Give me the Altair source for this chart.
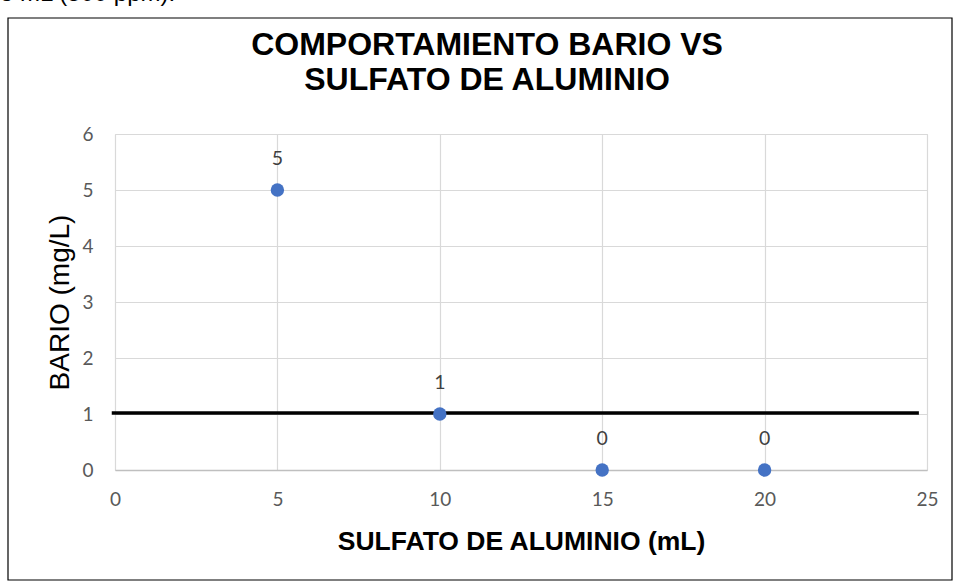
import altair as alt
import pandas as pd

# Jar-test results: aluminium sulfate dose vs residual barium
sulfato_ml = [5, 10, 15, 20]
bario_mg_l = [5, 1, 0, 0]

# Reference limit line (mg/L) and its horizontal extent on the x scale
limite_y = [1.02]
limite_x_ini = [-0.1]
limite_x_fin = [24.75]

x_ticks = [0, 5, 10, 15, 20, 25]
y_ticks = [0, 1, 2, 3, 4, 5, 6]

titulo = ["COMPORTAMIENTO BARIO VS", "SULFATO DE ALUMINIO"]

puntos = pd.DataFrame({"sulfato": sulfato_ml, "bario": bario_mg_l})
limite = pd.DataFrame({"x": limite_x_ini, "x2": limite_x_fin, "y": limite_y})

LABEL_FONT = "Lato"
TITLE_FONT = "Liberation Sans"

x_scale = alt.Scale(domain=[0, 25], nice=False)
y_scale = alt.Scale(domain=[0, 6], nice=False)

x_axis = alt.Axis(
    values=x_ticks,
    format="d",
    title="SULFATO DE ALUMINIO (mL)",
    titleFont=TITLE_FONT,
    titleFontSize=26.5,
    titleFontWeight="bold",
    titleColor="#000000",
    titleY=79,
    titleBaseline="alphabetic",
    labelFont=LABEL_FONT,
    labelFontSize=19,
    labelColor="#595959",
    labelPadding=20,
    labelFlush=False,
    ticks=False,
    domain=True,
    domainColor="#bfbfbf",
    domainWidth=1.5,
    grid=True,
    gridColor="#d9d9d9",
    gridWidth=1.2,
)

y_axis = alt.Axis(
    values=y_ticks,
    format="d",
    title="BARIO (mg/L)",
    titleFont=TITLE_FONT,
    titleFontSize=28,
    titleFontWeight="normal",
    titleColor="#000000",
    titleAngle=270,
    titleX=-47,
    titleY=168,
    titleAlign="center",
    titleBaseline="alphabetic",
    labelFont=LABEL_FONT,
    labelFontSize=19,
    labelColor="#595959",
    labelPadding=22,
    labelFlush=False,
    ticks=False,
    domain=False,
    grid=True,
    gridColor="#d9d9d9",
    gridWidth=1.2,
)

base = alt.Chart(puntos)

puntos_layer = base.mark_circle(size=180, color="#4472C4", opacity=1).encode(
    x=alt.X("sulfato:Q", scale=x_scale, axis=x_axis),
    y=alt.Y("bario:Q", scale=y_scale, axis=y_axis),
)

etiquetas = base.mark_text(
    dy=-31, font=LABEL_FONT, fontSize=19.5, color="#404040", baseline="middle"
).encode(
    x=alt.X("sulfato:Q", scale=x_scale),
    y=alt.Y("bario:Q", scale=y_scale),
    text=alt.Text("bario:Q", format="d"),
)

linea_limite = alt.Chart(limite).mark_rule(color="#000000", strokeWidth=3.5).encode(
    x=alt.X("x:Q", scale=x_scale),
    x2="x2:Q",
    y=alt.Y("y:Q", scale=y_scale),
)

# Chart-area frame
marco = alt.Chart(limite).mark_rect(
    fill=None, stroke="#000000", strokeWidth=1.2
).encode(
    x=alt.value(-107), x2=alt.value(837), y=alt.value(-116), y2=alt.value(446)
)

# Two-line chart title
titulo_1 = alt.Chart(limite).mark_text(
    text=titulo[0], font=TITLE_FONT, fontSize=32, fontWeight="bold",
    align="center", baseline="alphabetic", color="#000000"
).encode(x=alt.value(372), y=alt.value(-79))
titulo_2 = alt.Chart(limite).mark_text(
    text=titulo[1], font=TITLE_FONT, fontSize=32, fontWeight="bold",
    align="center", baseline="alphabetic", color="#000000"
).encode(x=alt.value(372), y=alt.value(-44))

# Tail of the paragraph above the chart
texto_previo = alt.Chart(limite).mark_text(
    text="3 mL (500 ppm).", font=TITLE_FONT, fontSize=24, align="left",
    baseline="alphabetic", color="#000000"
).encode(x=alt.value(-115), y=alt.value(-133))

chart = (
    alt.layer(linea_limite, puntos_layer, etiquetas, marco, titulo_1, titulo_2, texto_previo)
    .properties(
        width=812,
        height=336,
        autosize=alt.AutoSizeParams(type="none"),
        padding={"left": 115, "top": 134, "right": 33, "bottom": 113},
    )
    .configure_view(stroke=None)
    .configure(background="#ffffff")
)

chart.save("out.html", embed_options={"renderer": "svg", "actions": False})
